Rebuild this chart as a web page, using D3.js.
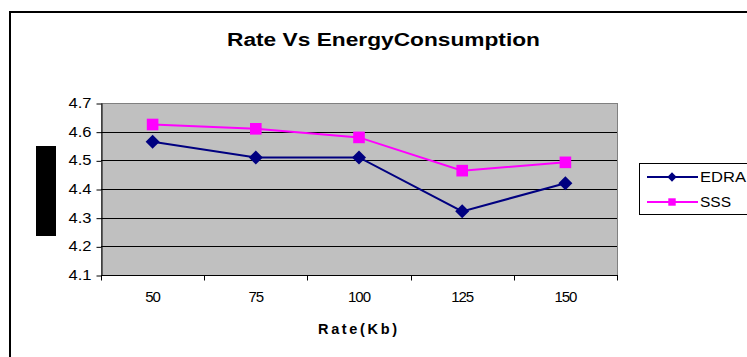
<!DOCTYPE html>
<html>
<head>
<meta charset="utf-8">
<script src="https://cdn.jsdelivr.net/npm/d3@7/dist/d3.min.js"></script>
<style>
  html, body { margin: 0; padding: 0; background: #fff; }
  svg { display: block; font-family: "Liberation Sans", Arial, sans-serif; }
</style>
</head>
<body>
<svg id="chart" width="747" height="357"></svg>
<script>
// Rate (Kb) categories and energy consumption per scheme
const rates = ["50", "75", "100", "125", "150"];
const edraValues = [4.565, 4.51, 4.51, 4.322, 4.42];
const sssValues = [4.625, 4.61, 4.58, 4.464, 4.493];
const yTicks = [4.1, 4.2, 4.3, 4.4, 4.5, 4.6, 4.7];
const seriesNames = ["EDRA", "SSS"];
const seriesColors = ["#000080", "#FF00FF"];

const series = [
  { name: seriesNames[0], values: edraValues, color: seriesColors[0], shape: d3.symbolDiamond2, size: 125, legendSize: 55 },
  { name: seriesNames[1], values: sssValues, color: seriesColors[1], shape: d3.symbolSquare, size: 135, legendSize: 55 }
];

const svg = d3.select("#chart");
const plot = { left: 101, top: 103, right: 617, bottom: 275 };

// outer chart frame
svg.append("rect")
  .attr("x", 10).attr("y", 12).attr("width", 760).attr("height", 360)
  .attr("fill", "none").attr("stroke", "#000").attr("stroke-width", 2);

svg.append("text")
  .attr("x", 227).attr("y", 46)
  .attr("font-size", 18).attr("font-weight", "bold")
  .attr("textLength", 313).attr("lengthAdjust", "spacingAndGlyphs")
  .text("Rate Vs EnergyConsumption");

const x = d3.scaleBand().domain(rates).range([plot.left, plot.right]);
const y = d3.scaleLinear().domain([4.1, 4.7]).range([plot.bottom, plot.top]);

// plot area
svg.append("rect")
  .attr("x", plot.left + 0.5).attr("y", plot.top + 0.5)
  .attr("width", plot.right - plot.left).attr("height", plot.bottom - plot.top)
  .attr("fill", "#C0C0C0").attr("stroke", "#808080").attr("stroke-width", 1);

// horizontal gridlines
svg.append("g").selectAll("line")
  .data(yTicks.slice(1, -1))
  .join("line")
  .attr("x1", plot.left).attr("x2", plot.right)
  .attr("y1", d => Math.round(y(d)) + 0.5).attr("y2", d => Math.round(y(d)) + 0.5)
  .attr("stroke", "#000").attr("stroke-width", 1);

// y axis
const yAxis = svg.append("g")
  .attr("transform", `translate(${plot.left + 0.5},0)`)
  .call(d3.axisLeft(y).tickValues(yTicks).tickFormat(d3.format(".1f")).tickSize(5).tickPadding(5).tickSizeOuter(0));
yAxis.select(".domain").attr("stroke", "#000");
yAxis.selectAll(".tick line").attr("stroke", "#000")
  .attr("transform", "translate(0,0.5)");
yAxis.selectAll(".tick text")
  .attr("font-size", 14).attr("fill", "#000")
  .attr("font-family", "'Liberation Sans', Arial, sans-serif")
  .attr("textLength", 23).attr("lengthAdjust", "spacingAndGlyphs");

// x axis with ticks at category boundaries
const xAxis = svg.append("g")
  .attr("transform", `translate(0,${plot.bottom + 0.5})`);
xAxis.append("line")
  .attr("x1", plot.left).attr("x2", plot.right + 1)
  .attr("stroke", "#000");
const boundaries = rates.map(r => x(r)).concat([x(rates[rates.length - 1]) + x.bandwidth()]);
xAxis.selectAll("line.tick")
  .data(boundaries)
  .join("line").attr("class", "tick")
  .attr("x1", d => Math.round(d) + 0.5).attr("x2", d => Math.round(d) + 0.5)
  .attr("y1", 0).attr("y2", 5)
  .attr("stroke", "#000");
xAxis.selectAll("text")
  .data(rates)
  .join("text")
  .attr("x", d => x(d) + x.bandwidth() / 2)
  .attr("y", 26.5)
  .attr("text-anchor", "middle")
  .attr("font-size", 15).attr("letter-spacing", "-1px")
  .text(d => d);

svg.append("text")
  .attr("x", 318).attr("y", 334)
  .attr("font-size", 14.5).attr("font-weight", "bold")
  .attr("textLength", 79).attr("lengthAdjust", "spacing")
  .text("Rate(Kb)");

// y axis title block
svg.append("rect")
  .attr("x", 36).attr("y", 146).attr("width", 20).attr("height", 90)
  .attr("fill", "#000");

const line = d3.line()
  .x((d, i) => x(rates[i]) + x.bandwidth() / 2)
  .y(d => y(d));

series.forEach(s => {
  const g = svg.append("g");
  g.append("path")
    .attr("d", line(s.values))
    .attr("fill", "none").attr("stroke", s.color).attr("stroke-width", 2);
  g.selectAll("path.m")
    .data(s.values)
    .join("path").attr("class", "m")
    .attr("transform", (d, i) => `translate(${x(rates[i]) + x.bandwidth() / 2},${y(d)})`)
    .attr("d", d3.symbol().type(s.shape).size(s.size))
    .attr("fill", s.color).attr("stroke", "none");
});

// legend
const legend = svg.append("g");
legend.append("rect")
  .attr("x", 639.5).attr("y", 163.5).attr("width", 130).attr("height", 51)
  .attr("fill", "#fff").attr("stroke", "#000").attr("stroke-width", 1);
const legendWidths = [46, 31];
series.forEach((s, i) => {
  const ly = 177 + i * 25;
  legend.append("line")
    .attr("x1", 647).attr("x2", 698).attr("y1", ly).attr("y2", ly)
    .attr("stroke", s.color).attr("stroke-width", 2);
  legend.append("path")
    .attr("transform", `translate(672,${ly})`)
    .attr("d", d3.symbol().type(s.shape).size(s.legendSize))
    .attr("fill", s.color);
  legend.append("text")
    .attr("x", 700).attr("y", ly + 5)
    .attr("font-size", 14)
    .attr("textLength", legendWidths[i]).attr("lengthAdjust", "spacingAndGlyphs")
    .text(s.name);
});
</script>
</body>
</html>
